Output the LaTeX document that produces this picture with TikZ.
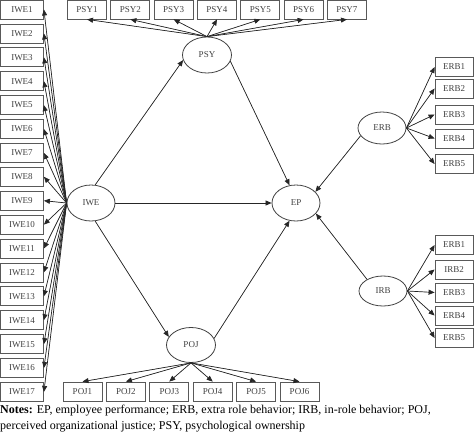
\documentclass[tikz,border=0pt]{standalone}
\usepackage{fontspec}
\setmainfont{Liberation Serif}
\usetikzlibrary{arrows.meta,shapes.geometric}
\begin{document}
\begin{tikzpicture}[x=1pt,y=-1pt,
  ind/.style={draw=black!65, line width=0.8pt, minimum width=39pt, minimum height=19pt, inner sep=0pt, font=\fontsize{9}{10}\selectfont, text=black!75},
  lat/.style={ellipse, draw=black!75, line width=0.8pt, inner sep=0pt, minimum width=48pt, minimum height=36pt, font=\fontsize{9}{10}\selectfont, text=black!75},
  arr/.style={-{Triangle[length=6pt,width=5pt]}, line width=0.7pt, draw=black!85, fill=black!85},
  notes/.style={anchor=base west, inner sep=0pt, font=\fontsize{12}{14}\selectfont}]
\useasboundingbox (0,0) rectangle (474,437);
% latent variables
\node[lat] (IWE) at (91,203) {IWE};
\node[lat, minimum width=49pt] (PSY) at (207,55) {PSY};
\node[lat] (EP) at (296,203) {EP};
\node[lat, minimum height=32pt] (ERB) at (382,128) {ERB};
\node[lat, minimum height=30pt] (IRB) at (383,291) {IRB};
\node[lat, minimum width=49pt, minimum height=35pt] (POJ) at (191,345) {POJ};
% IWE indicators
\foreach \k in {1,...,17}{
  \node[ind, minimum width=43pt] (IWE\k) at (22,{9.5+23.9*(\k-1)}) {IWE\k};
  \draw[arr] (IWE.west) -- (IWE\k.east);
}
% PSY indicators
\foreach \k in {1,...,7}{
  \node[ind] (PSY\k) at ({87+43.33*(\k-1)},9.5) {PSY\k};
  \draw[arr] (PSY.north) -- (PSY\k.south);
}
% POJ indicators
\foreach \k in {1,...,6}{
  \node[ind] (POJ\k) at ({82.5+43.4*(\k-1)},391.5) {POJ\k};
  \draw[arr] (POJ.south) -- (POJ\k.north);
}
% ERB indicators
\foreach \k/\y in {1/67,2/88.5,3/114.5,4/138.5,5/164}{
  \node[ind, minimum width=38pt] (ERB\k) at (454,\y) {ERB\k};
  \draw[arr] (ERB.east) -- (ERB\k.west);
}
% IRB indicators
\foreach \k/\y/\t in {1/245/ERB1,2/269.5/IRB2,3/292.5/ERB3,4/315.5/ERB4,5/338/ERB5}{
  \node[ind, minimum width=38pt] (IRBi\k) at (454,\y) {\t};
  \draw[arr] (IRB.east) -- (IRBi\k.west);
}
% structural paths
\draw[arr] (IWE.77) -- (PSY.192);
\draw[arr] (IWE.east) -- (EP.west);
\draw[arr] (IWE.-77) -- (POJ.160);
\draw[arr] (PSY.-15) -- (EP.110);
\draw[arr] (ERB.200) -- (EP.30);
\draw[arr] (IRB.144) -- (EP.-28);
\draw[arr] (POJ.16) -- (EP.250);
% notes
\node[notes] (n1) at (0,413) {\textbf{Notes:} EP, employee performance; ERB, extra role behavior; IRB, in-role behavior; POJ,};
\node[notes] (n2) at (0,429) {perceived organizational justice; PSY, psychological ownership};
\end{tikzpicture}
\end{document}
